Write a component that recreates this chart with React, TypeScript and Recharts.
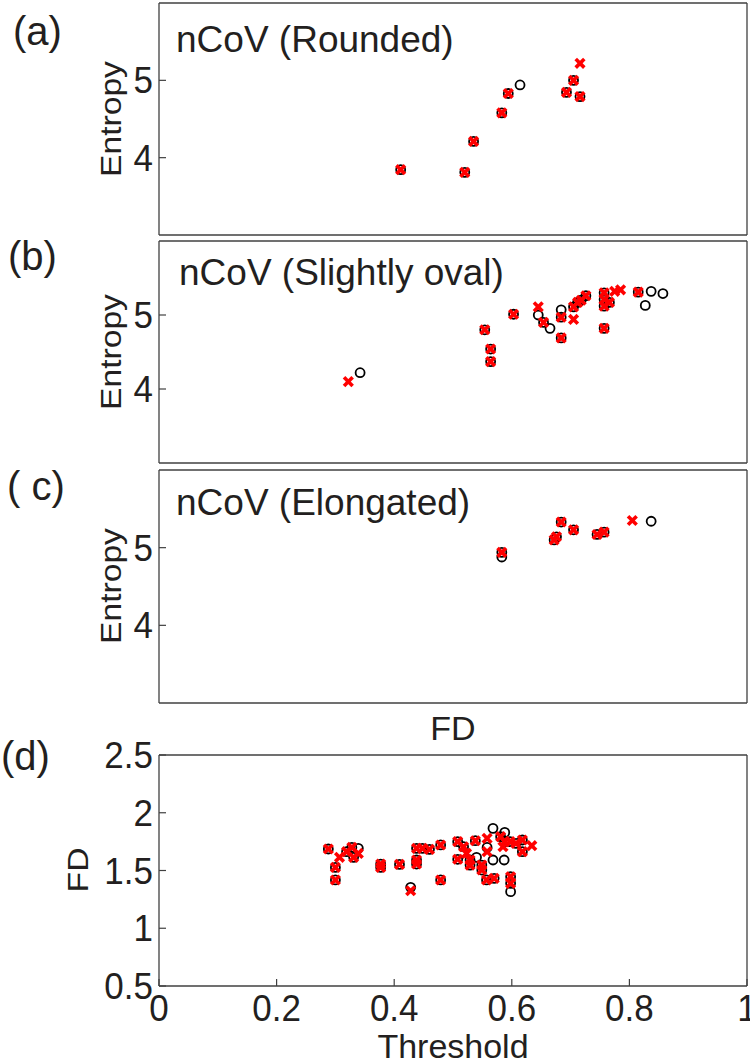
import { ScatterChart, Scatter, XAxis, YAxis } from 'recharts'

const FONT = '"Liberation Sans", Arial, sans-serif'
const INK = '#231f20'
const FRAME = '#404040'
const RED = '#ff0000'
const TICK = 7
const PAD = 24

// (a) nCoV (Rounded)
const roundedCircleX = [0.411, 0.52, 0.535, 0.583, 0.594, 0.614, 0.693, 0.705, 0.716]
const roundedCircleY = [3.845, 3.81, 4.21, 4.58, 4.83, 4.94, 4.845, 5.0, 4.79]
const roundedCrossX = [0.411, 0.52, 0.535, 0.583, 0.594, 0.693, 0.705, 0.716, 0.716]
const roundedCrossY = [3.845, 3.81, 4.21, 4.58, 4.83, 4.845, 5.0, 4.79, 5.22]

// (b) nCoV (Slightly oval)
const ovalCircleX = [0.342, 0.554, 0.564, 0.564, 0.603, 0.645, 0.654, 0.665, 0.684, 0.684, 0.684, 0.705, 0.712, 0.718, 0.726, 0.757, 0.757, 0.757, 0.766, 0.757, 0.815, 0.827, 0.837, 0.857]
const ovalCircleY = [4.22, 4.8, 4.54, 4.37, 5.01, 5.0, 4.9, 4.82, 5.07, 4.97, 4.69, 5.11, 5.17, 5.2, 5.26, 5.3, 5.21, 5.12, 5.17, 4.82, 5.31, 5.13, 5.32, 5.29]
const ovalCrossX = [0.322, 0.554, 0.564, 0.564, 0.603, 0.645, 0.654, 0.684, 0.684, 0.705, 0.705, 0.712, 0.718, 0.726, 0.757, 0.757, 0.757, 0.766, 0.757, 0.775, 0.785, 0.815]
const ovalCrossY = [4.1, 4.8, 4.54, 4.37, 5.01, 5.11, 4.9, 4.97, 4.69, 4.94, 5.11, 5.17, 5.2, 5.26, 5.3, 5.21, 5.12, 5.17, 4.82, 5.32, 5.34, 5.31]

// (c) nCoV (Elongated)
const longCircleX = [0.583, 0.583, 0.672, 0.676, 0.684, 0.705, 0.745, 0.757, 0.837]
const longCircleY = [4.94, 4.88, 5.1, 5.14, 5.33, 5.23, 5.17, 5.2, 5.34]
const longCrossX = [0.583, 0.672, 0.676, 0.684, 0.705, 0.745, 0.757, 0.805]
const longCrossY = [4.94, 5.1, 5.14, 5.33, 5.23, 5.17, 5.2, 5.35]

// (d) FD vs threshold
const fdCircleX = [0.288, 0.3, 0.3, 0.319, 0.328, 0.331, 0.377, 0.377, 0.409, 0.438, 0.438, 0.438, 0.448, 0.46, 0.479, 0.479, 0.508, 0.508, 0.518, 0.529, 0.529, 0.538, 0.549, 0.549, 0.557, 0.57, 0.581, 0.588, 0.597, 0.607, 0.598, 0.598, 0.618, 0.618, 0.339, 0.428, 0.54, 0.558, 0.568, 0.568, 0.587, 0.588, 0.598]
const fdCircleY = [1.686, 1.527, 1.418, 1.663, 1.7, 1.614, 1.556, 1.527, 1.553, 1.591, 1.556, 1.692, 1.692, 1.683, 1.721, 1.418, 1.75, 1.597, 1.706, 1.591, 1.547, 1.758, 1.547, 1.504, 1.418, 1.432, 1.793, 1.75, 1.75, 1.735, 1.446, 1.389, 1.764, 1.663, 1.692, 1.354, 1.614, 1.7, 1.865, 1.591, 1.591, 1.83, 1.317]
const fdCrossX = [0.288, 0.3, 0.3, 0.319, 0.328, 0.331, 0.377, 0.377, 0.409, 0.438, 0.438, 0.438, 0.448, 0.46, 0.479, 0.479, 0.508, 0.508, 0.518, 0.529, 0.529, 0.538, 0.549, 0.549, 0.557, 0.57, 0.581, 0.588, 0.597, 0.607, 0.598, 0.598, 0.618, 0.618, 0.307, 0.339, 0.428, 0.523, 0.558, 0.558, 0.585, 0.634]
const fdCrossY = [1.686, 1.527, 1.418, 1.663, 1.7, 1.614, 1.556, 1.527, 1.553, 1.591, 1.556, 1.692, 1.692, 1.683, 1.721, 1.418, 1.75, 1.597, 1.706, 1.591, 1.547, 1.758, 1.547, 1.504, 1.418, 1.432, 1.793, 1.75, 1.75, 1.735, 1.446, 1.389, 1.764, 1.663, 1.614, 1.648, 1.325, 1.648, 1.778, 1.663, 1.706, 1.715]

const entropyTicks = [4, 5]
const fdTicks = [0.5, 1, 1.5, 2, 2.5]
const thresholdTicks = [0, 0.2, 0.4, 0.6, 0.8, 1]

const zip = (xs: number[], ys: number[]) => xs.map((x, i) => ({ x, y: ys[i] }))

const Ring = (p: any) => (
  <circle cx={p.cx} cy={p.cy} r={4.5} fill='none' stroke='#000' strokeWidth={1.8} />
)

const Cross = (p: any) => {
  const s = 4.3
  return (
    <g stroke={RED} strokeWidth={3.6}>
      <line x1={p.cx - s} y1={p.cy - s} x2={p.cx + s} y2={p.cy + s} />
      <line x1={p.cx - s} y1={p.cy + s} x2={p.cx + s} y2={p.cy - s} />
    </g>
  )
}

// tick labels look a little taller than plain Arial in the original
const TickText = ({ x, y, anchor, children }: any) => (
  <text
    transform={`translate(${x} ${y}) scale(1 1.08)`}
    textAnchor={anchor}
    fontSize={35}
    fontFamily={FONT}
    fill={INK}
  >
    {children}
  </text>
)

const LeftTick = (p: any) => (
  <g>
    <line x1={p.x} x2={p.x + TICK} y1={p.y} y2={p.y} stroke={FRAME} strokeWidth={1.2} />
    <TickText x={p.x - 6} y={p.y + 13} anchor='end'>{p.payload.value}</TickText>
  </g>
)

const RightTick = (p: any) => (
  <line x1={p.x} x2={p.x - TICK} y1={p.y} y2={p.y} stroke={FRAME} strokeWidth={1.2} />
)

const BottomTick = (p: any) => (
  <g>
    <line x1={p.x} x2={p.x} y1={p.y} y2={p.y - TICK} stroke={FRAME} strokeWidth={1.2} />
    <TickText x={p.x} y={p.y + 35} anchor='middle'>{p.payload.value}</TickText>
  </g>
)

const TopTick = (p: any) => (
  <line x1={p.x} x2={p.x} y1={p.y} y2={p.y + TICK} stroke={FRAME} strokeWidth={1.2} />
)

const frameLine = { stroke: FRAME, strokeWidth: 1.3 }

type PanelProps = {
  plotTop: number
  plotH: number
  bottomH: number
  circles: { x: number; y: number }[]
  crosses: { x: number; y: number }[]
  yDomain: [number, number]
  yTicks: number[]
  xTicks?: number[]
}

function Panel({ plotTop, plotH, bottomH, circles, crosses, yDomain, yTicks, xTicks }: PanelProps) {
  const withX = !!xTicks
  return (
    <div style={{ position: 'absolute', left: 0, top: plotTop - 3 - PAD }}>
      <ScatterChart
        width={750}
        height={PAD + 3 + plotH + bottomH}
        margin={{ top: PAD, right: 0, bottom: 0, left: 0 }}
      >
        <XAxis
          dataKey='x'
          type='number'
          domain={[0, 1]}
          ticks={xTicks}
          height={bottomH}
          axisLine={frameLine}
          tickLine={false}
          tickSize={0}
          tickMargin={0}
          interval={0}
          tick={withX ? BottomTick : false}
        />
        <XAxis
          xAxisId='top'
          orientation='top'
          type='number'
          domain={[0, 1]}
          ticks={xTicks}
          height={3}
          axisLine={frameLine}
          tickLine={false}
          tickSize={0}
          tickMargin={0}
          interval={0}
          tick={withX ? TopTick : false}
        />
        <YAxis
          dataKey='y'
          type='number'
          domain={yDomain}
          ticks={yTicks}
          width={159}
          axisLine={frameLine}
          tickLine={false}
          tickSize={0}
          tickMargin={0}
          interval={0}
          tick={LeftTick}
        />
        <YAxis
          yAxisId='right'
          orientation='right'
          type='number'
          domain={yDomain}
          ticks={yTicks}
          width={3}
          axisLine={frameLine}
          tickLine={false}
          tickSize={0}
          tickMargin={0}
          interval={0}
          tick={RightTick}
        />
        <Scatter data={circles} shape={Ring} isAnimationActive={false} />
        <Scatter data={crosses} shape={Cross} isAnimationActive={false} />
      </ScatterChart>
    </div>
  )
}

const txt = { fontFamily: FONT, fill: INK }

export default function App() {
  return (
    <div style={{ position: 'absolute', left: 0, top: 0, width: 750, height: 1064, background: '#fff', overflow: 'hidden' }}>
      <Panel plotTop={3} plotH={232} bottomH={3} circles={zip(roundedCircleX, roundedCircleY)} crosses={zip(roundedCrossX, roundedCrossY)} yDomain={[3, 6]} yTicks={entropyTicks} />
      <Panel plotTop={241} plotH={222} bottomH={3} circles={zip(ovalCircleX, ovalCircleY)} crosses={zip(ovalCrossX, ovalCrossY)} yDomain={[3, 6]} yTicks={entropyTicks} />
      <Panel plotTop={470} plotH={233} bottomH={3} circles={zip(longCircleX, longCircleY)} crosses={zip(longCrossX, longCrossY)} yDomain={[3, 6]} yTicks={entropyTicks} />
      <Panel plotTop={755} plotH={231} bottomH={78} circles={zip(fdCircleX, fdCircleY)} crosses={zip(fdCrossX, fdCrossY)} yDomain={[0.5, 2.5]} yTicks={fdTicks} xTicks={thresholdTicks} />
      <svg width={750} height={1064} style={{ position: 'absolute', left: 0, top: 0, pointerEvents: 'none' }}>
        <g {...txt} fontSize={40}>
          <text x={13} y={45}>(a)</text>
          <text x={8} y={270}>(b)</text>
          <text x={7} y={500} xmlSpace='preserve'>( c)</text>
          <text x={1} y={770}>(d)</text>
        </g>
        <g {...txt} fontSize={37}>
          <text x={176} y={52}>nCoV (Rounded)</text>
          <text x={179} y={285}>nCoV (Slightly oval)</text>
          <text x={176} y={515}>nCoV (Elongated)</text>
        </g>
        <g {...txt} fontSize={30} textAnchor='middle'>
          <text transform='translate(121 119) scale(1 1.12) rotate(-90)'>Entropy</text>
          <text transform='translate(121 352) scale(1 1.12) rotate(-90)'>Entropy</text>
          <text transform='translate(121 586) scale(1 1.12) rotate(-90)'>Entropy</text>
          <text transform='translate(88 870) scale(1 1.12) rotate(-90)'>FD</text>
        </g>
        <g {...txt} fontSize={34} textAnchor='middle'>
          <text x={453} y={740}>FD</text>
          <text x={453} y={1058}>Threshold</text>
        </g>
      </svg>
    </div>
  )
}
